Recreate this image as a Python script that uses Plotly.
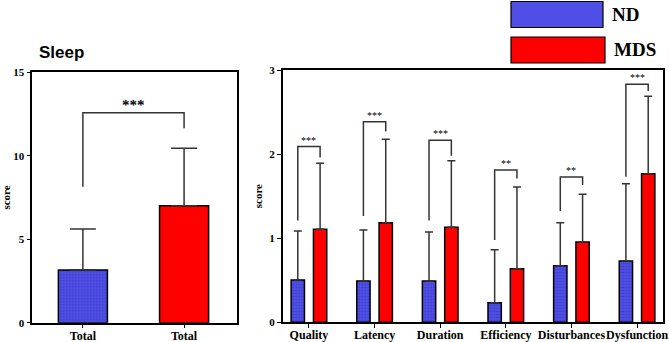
import plotly.graph_objects as go

# ---- data ----
total_labels = ["Total", "Total"]
total_mean = [3.16, 7.01]          # ND, MDS
total_sd_top = [5.61, 10.45]       # top of error bars
total_bracket = [12.58, 8.15, 11.65]  # bracket height, left leg end, right leg end
total_sig = "***"

categories = ["Quality", "Latency", "Duration", "Efficiency", "Disturbances", "Dysfunction"]
nd_mean = [0.503, 0.491, 0.491, 0.233, 0.673, 0.729]
mds_mean = [1.106, 1.185, 1.130, 0.637, 0.955, 1.767]
nd_err_top = [1.085, 1.097, 1.074, 0.863, 1.184, 1.648]
mds_err_top = [1.890, 2.176, 1.920, 1.609, 1.522, 2.687]
bracket_y = [2.09, 2.385, 2.164, 1.81, 1.728, 2.83]
bracket_left_end = [1.21, 1.264, 1.21, 0.979, 1.323, 1.731]
bracket_right_end = [1.96, 2.27, 1.98, 1.71, 1.633, 2.75]
sig = ["***", "***", "***", "**", "**", "***"]

BLUE_BG = "#4f4fe8"
BLUE_FG = "#2b2ba8"
RED = "#ff0000"
ERR = "#333333"
SERIF = "Liberation Serif"

fig = go.Figure()

pattern = dict(shape=".", fgcolor=BLUE_FG, bgcolor=BLUE_BG, size=3, solidity=0.3, fillmode="overlay")

# ---- left panel ----
fig.add_trace(go.Bar(
    x=[0], y=[total_mean[0]], width=0.485, xaxis="x", yaxis="y",
    marker=dict(color=BLUE_BG, line=dict(color="black", width=1.5), pattern=pattern),
    error_y=dict(type="data", symmetric=False, array=[total_sd_top[0] - total_mean[0]],
                 arrayminus=[0], color=ERR, thickness=1.5, width=13),
    showlegend=False))
fig.add_trace(go.Bar(
    x=[1], y=[total_mean[1]], width=0.485, xaxis="x", yaxis="y",
    marker=dict(color=RED, line=dict(color="black", width=1.5)),
    error_y=dict(type="data", symmetric=False, array=[total_sd_top[1] - total_mean[1]],
                 arrayminus=[0], color=ERR, thickness=1.5, width=13),
    showlegend=False))

# ---- right panel ----
off = 0.17
idx = list(range(len(categories)))
fig.add_trace(go.Bar(
    x=[i - off for i in idx], y=nd_mean, width=0.203, xaxis="x2", yaxis="y2",
    marker=dict(color=BLUE_BG, line=dict(color="black", width=1.5), pattern=pattern),
    error_y=dict(type="data", symmetric=False, array=[t - m for t, m in zip(nd_err_top, nd_mean)],
                 arrayminus=[0] * len(nd_mean), color=ERR, thickness=1.5, width=4),
    showlegend=False))
fig.add_trace(go.Bar(
    x=[i + off for i in idx], y=mds_mean, width=0.203, xaxis="x2", yaxis="y2",
    marker=dict(color=RED, line=dict(color="black", width=1.5)),
    error_y=dict(type="data", symmetric=False, array=[t - m for t, m in zip(mds_err_top, mds_mean)],
                 arrayminus=[0] * len(mds_mean), color=ERR, thickness=1.5, width=4),
    showlegend=False))

shapes = []
annotations = []
line = dict(color=ERR, width=1.5)

# left bracket
hb, le, re_ = total_bracket
shapes.append(dict(type="path", xref="x", yref="y",
                   path=f"M 0 {le} L 0 {hb} L 1 {hb} L 1 {re_}", line=line))
annotations.append(dict(x=0.5, y=hb, xref="x", yref="y", text="<b>" + total_sig + "</b>", showarrow=False,
                        yanchor="bottom", yshift=-2, font=dict(family=SERIF, size=15, color="black")))

for i in idx:
    xl, xr = i - off, i + off
    shapes.append(dict(type="path", xref="x2", yref="y2",
                       path=f"M {xl} {bracket_left_end[i]} L {xl} {bracket_y[i]} L {xr} {bracket_y[i]} L {xr} {bracket_right_end[i]}",
                       line=line))
    annotations.append(dict(x=i, y=bracket_y[i], xref="x2", yref="y2", text=sig[i], showarrow=False,
                            yanchor="bottom", yshift=-1, font=dict(family=SERIF, size=10, color="black")))

# legend swatches (drawn as shapes) + labels
shapes.append(dict(type="rect", xref="paper", yref="paper",
                   x0=511 / 669, x1=603 / 669, y0=1 - 27.5 / 342, y1=1 - 1.5 / 342,
                   fillcolor=BLUE_BG, line=dict(color="black", width=1.2)))
shapes.append(dict(type="rect", xref="paper", yref="paper",
                   x0=511 / 669, x1=605 / 669, y0=1 - 63 / 342, y1=1 - 37 / 342,
                   fillcolor=RED, line=dict(color="black", width=1.2)))
annotations.append(dict(x=610 / 669, y=1 - 14 / 342, xref="paper", yref="paper", text="<b>ND</b>",
                        showarrow=False, xanchor="left", yanchor="middle",
                        font=dict(family=SERIF, size=19, color="black")))
annotations.append(dict(x=612 / 669, y=1 - 50 / 342, xref="paper", yref="paper", text="<b>MDS</b>",
                        showarrow=False, xanchor="left", yanchor="middle",
                        font=dict(family=SERIF, size=19, color="black")))
# panel title
annotations.append(dict(x=37 / 669, y=1 - 53 / 342, xref="paper", yref="paper", text="<b>Sleep</b>",
                        showarrow=False, xanchor="left", yanchor="middle",
                        font=dict(family="Liberation Sans", size=17, color="black")))

axis_common = dict(showline=True, linecolor="black", linewidth=1.5, mirror=True,
                   ticks="outside", ticklen=4, tickwidth=1.2, tickcolor="black",
                   showgrid=False, zeroline=False, automargin=False)
tickfont = dict(family=SERIF, size=11, color="black")

fig.update_layout(
    width=669, height=342, margin=dict(l=0, r=0, t=0, b=0),
    paper_bgcolor="white", plot_bgcolor="white",
    barmode="overlay", shapes=shapes, annotations=annotations,
    xaxis=dict(domain=[32.3 / 669, 236.7 / 669], range=[-0.5, 1.52], tickvals=[0, 1], tickangle=0,
               ticklabelstandoff=-3,
               ticktext=[f"<b>{t}</b>" for t in total_labels],
               tickfont=dict(family=SERIF, size=12, color="black"), **axis_common),
    yaxis=dict(domain=[1 - 322.7 / 342, 1 - 72.3 / 342], range=[0, 15], tickvals=[0, 5, 10, 15],
               ticktext=["<b>0</b>", "<b>5</b>", "<b>10</b>", "<b>15</b>"], tickfont=tickfont,
               title=dict(text="<b>score</b>", font=dict(family=SERIF, size=11, color="black"), standoff=5),
               **axis_common),
    xaxis2=dict(domain=[282.7 / 669, 663.3 / 669], range=[-0.4, 5.4], tickvals=idx, tickangle=0,
                ticklabelstandoff=-3,
                ticktext=[f"<b>{c}</b>" for c in categories], tickfont=dict(family=SERIF, size=12, color="black"),
                anchor="y2", **axis_common),
    yaxis2=dict(domain=[1 - 322.3 / 342, 1 - 70 / 342], range=[0, 3], tickvals=[0, 1, 2, 3],
                ticktext=["<b>0</b>", "<b>1</b>", "<b>2</b>", "<b>3</b>"], tickfont=tickfont,
                title=dict(text="<b>score</b>", font=dict(family=SERIF, size=11, color="black"), standoff=4),
                anchor="x2", **axis_common),
)

fig.write_html("out.html")
